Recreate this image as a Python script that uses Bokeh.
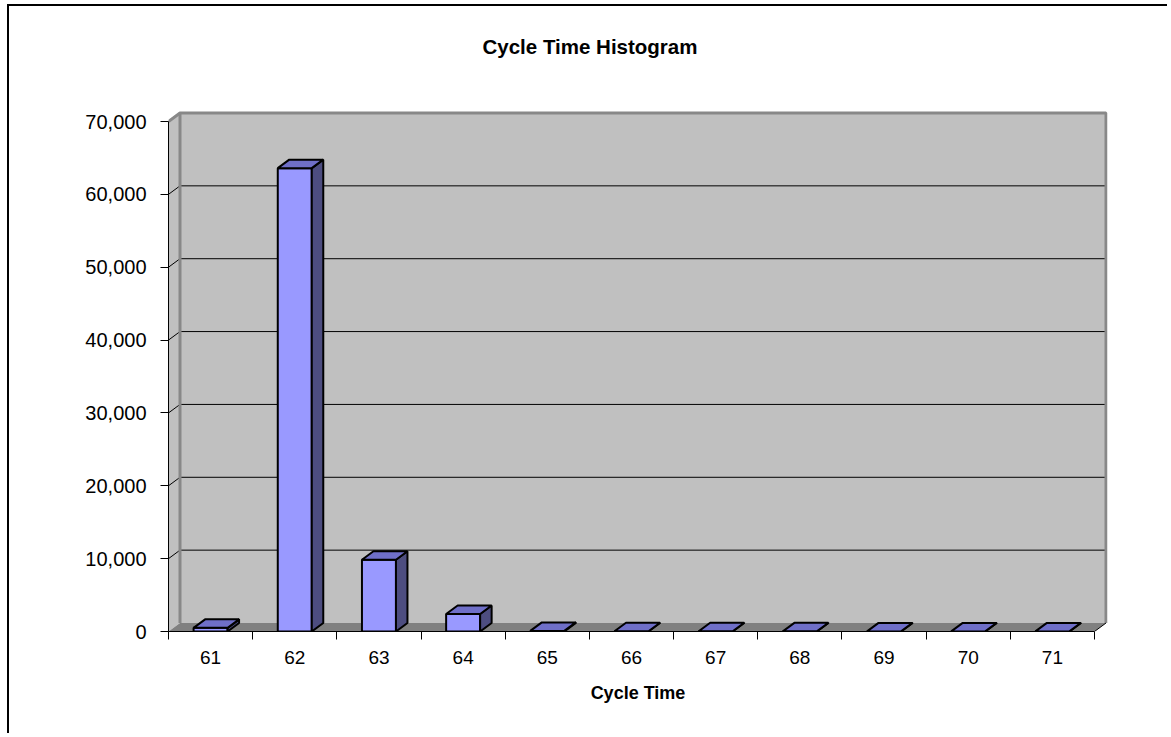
from bokeh.plotting import figure
from bokeh.models import Range1d, FixedTicker, NumeralTickFormatter, ColumnDataSource
from bokeh.embed import file_html
from bokeh.resources import INLINE

# ---- data ----
cycle_times = [61, 62, 63, 64, 65, 66, 67, 68, 69, 70, 71]
x_labels = ["61", "62", "63", "64", "65", "66", "67", "68", "69", "70", "71"]
counts = [500, 63600, 9850, 2400, 80, 40, 30, 20, 10, 10, 10]
y_ticks = [0, 10000, 20000, 30000, 40000, 50000, 60000, 70000]

# ---- geometry (pixels -> data units) ----
PX_X = 926 / 11.0          # px per category
PX_Y = 510 / 70000.0       # px per count
DX = 11.5 / PX_X           # depth offset x
DY = 8.5 / PX_Y            # depth offset y
HALF = 17 / PX_X           # half bar width
X0, X1 = cycle_times[0] - 0.5, cycle_times[-1] + 0.5
YMAX = y_ticks[-1]

FONT = "Liberation Sans"

p = figure(width=1160, height=729, output_backend="svg", toolbar_location=None,
           x_range=Range1d(X0, X0 + 939 / PX_X), y_range=Range1d(0, 561 / PX_Y),
           min_border_left=159, min_border_right=62, min_border_top=64, min_border_bottom=104,
           background_fill_color="white", border_fill_color="white")
p.outline_line_color = None
p.xgrid.visible = False
p.ygrid.visible = False
p.styles = {"border-left": "2px solid black", "border-top": "2px solid black",
            "margin-left": "7px", "margin-top": "4px"}

# title
p.title.text = "Cycle Time Histogram"
p.title.text_font = FONT
p.title.text_font_size = "20.5px"
p.title.text_font_style = "bold"
p.title.text_color = "black"
p.title.align = "left"
p.title.offset = 314
p.title.standoff = 26

# ---- walls and floor ----
wall_gray = "#c0c0c0"
edge_gray = "#888888"
# back wall
p.patches(xs=[[X0 + DX, X1 + DX, X1 + DX, X0 + DX]],
          ys=[[DY, DY, YMAX + DY, YMAX + DY]],
          fill_color=wall_gray, line_color=None)
# side wall
p.patches(xs=[[X0, X0 + DX, X0 + DX, X0]],
          ys=[[0, DY, YMAX + DY, YMAX]],
          fill_color=wall_gray, line_color=None)
# floor
p.patches(xs=[[X0, X1, X1 + DX, X0 + DX]],
          ys=[[0, 0, DY, DY]],
          fill_color="#808080", line_color=None)

# gridlines on back and side walls
grid_vals = y_ticks[1:-1]
p.multi_line(xs=[[X0, X0 + DX, X1 + DX] for _ in grid_vals],
             ys=[[v, v + DY, v + DY] for v in grid_vals],
             line_color="black", line_width=1)

# wall edges
p.multi_line(xs=[[X0, X0 + DX, X1 + DX, X1 + DX], [X0 + DX, X0 + DX]],
             ys=[[YMAX, YMAX + DY, YMAX + DY, DY], [DY, YMAX + DY]],
             line_color=edge_gray, line_width=3)
p.multi_line(xs=[[X1, X1 + DX]], ys=[[0, DY]], line_color="black", line_width=1)

# ---- 3D bars ----
lefts = [c - HALF for c in cycle_times]
rights = [c + HALF for c in cycle_times]
src = ColumnDataSource(dict(left=lefts, right=rights, top=counts, bottom=[0] * len(counts)))

top_xs = [[l, r, r + DX, l + DX] for l, r in zip(lefts, rights)]
top_ys = [[v, v, v + DY, v + DY] for v in counts]
side_xs = [[r, r + DX, r + DX, r] for r in rights]
side_ys = [[0, DY, v + DY, v] for v in counts]

p.quad(left="left", right="right", top="top", bottom="bottom", source=src,
       fill_color="#9999ff", line_color="black", line_width=2)
p.patches(xs=side_xs, ys=side_ys, fill_color="#4d4d80", line_color="black", line_width=2)
p.patches(xs=top_xs, ys=top_ys, fill_color="#6f6fc8", line_color="black", line_width=2)

# ---- axes ----
xa = p.xaxis[0]
xa.ticker = FixedTicker(ticks=cycle_times, minor_ticks=[X0 + i for i in range(len(cycle_times) + 1)])
xa.major_label_overrides = {c: lab for c, lab in zip(cycle_times, x_labels)}
xa.bounds = (X0, X1)
xa.major_tick_out = 0
xa.major_tick_in = 0
xa.minor_tick_out = 8
xa.minor_tick_in = 0
xa.minor_tick_line_color = "black"
xa.axis_line_color = "black"
xa.major_label_text_font = FONT
xa.major_label_text_font_size = "19px"
xa.major_label_text_color = "black"
xa.major_label_standoff = 11
xa.axis_label = "Cycle Time"
xa.axis_label_text_font = FONT
xa.axis_label_text_font_size = "18px"
xa.axis_label_text_font_style = "bold"
xa.axis_label_text_color = "black"
xa.axis_label_standoff = 16

ya = p.yaxis[0]
ya.ticker = FixedTicker(ticks=y_ticks, minor_ticks=[])
ya.formatter = NumeralTickFormatter(format="0,0")
ya.bounds = (0, YMAX)
ya.major_tick_out = 8
ya.major_tick_in = 0
ya.minor_tick_line_color = None
ya.axis_line_color = "black"
ya.major_label_text_font = FONT
ya.major_label_text_font_size = "20px"
ya.major_label_text_color = "black"
ya.major_label_standoff = 14

open("out.html", "w").write(file_html(p, INLINE))
